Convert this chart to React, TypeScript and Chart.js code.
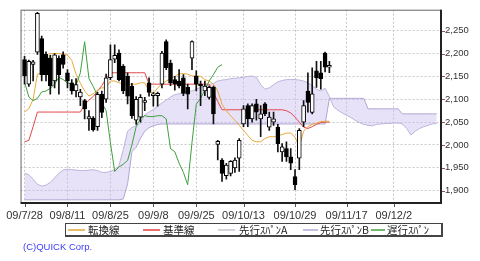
import React, { useEffect, useRef } from 'react';
import { Chart, registerables } from 'chart.js';

Chart.register(...registerables);

// ---- candle data (trading-day index 0 = 09/7/28) ----
const opens = [
  2187, 2133, 2176, 2203, 2233, 2199, 2190, 2140, 2190, 2197,
  2158, 2136, 2118, 2105, 2097, 2057, 2059, 2040, 2111, 2100,
  2147, 2188, 2201, 2172, 2151, 2129, 2054, 2061, 2093, 2136,
  2108, 2108, 2133, 2226, 2179, 2143, 2140, 2147, 2126, 2190,
  2151, 2133, 2118, 2104, 2126, 2001, 1967, 1933, 1938, 1950,
  1971, 2046, 2086, 2057, 2090, 2057, 2090, 2039, 2050, 2039,
  1985, 1992, 1974, 1931, 1971, 2050, 2118, 2071, 2162, 2158,
  2201, 2170,
];
const highs = [
  2194, 2186, 2185, 2290, 2238, 2204, 2196, 2200, 2195, 2204,
  2165, 2143, 2145, 2122, 2100, 2075, 2062, 2115, 2118, 2155,
  2219, 2219, 2208, 2176, 2158, 2135, 2106, 2110, 2104, 2147,
  2115, 2116, 2205, 2230, 2186, 2150, 2165, 2154, 2133, 2228,
  2162, 2140, 2140, 2129, 2129, 2010, 1970, 1960, 1966, 1972,
  2014, 2086, 2090, 2090, 2100, 2086, 2093, 2072, 2072, 2045,
  2003, 2007, 1992, 1946, 2036, 2097, 2158, 2169, 2183, 2183,
  2203, 2183,
];
const lows = [
  2133, 2128, 2140, 2198, 2140, 2140, 2111, 2125, 2111, 2168,
  2125, 2111, 2105, 2086, 2057, 2032, 2030, 2032, 2060, 2093,
  2143, 2180, 2140, 2112, 2090, 2058, 2045, 2050, 2075, 2107,
  2085, 2085, 2125, 2165, 2130, 2120, 2125, 2108, 2079, 2165,
  2118, 2086, 2108, 2100, 2046, 1967, 1920, 1925, 1932, 1940,
  1942, 2040, 2040, 2050, 2054, 2018, 2064, 2032, 2043, 1985,
  1964, 1964, 1946, 1902, 1946, 2040, 2072, 2068, 2126, 2122,
  2160, 2158,
];
const closes = [
  2151, 2183, 2182, 2288, 2154, 2154, 2129, 2197, 2154, 2176,
  2140, 2118, 2132, 2116, 2079, 2062, 2033, 2111, 2071, 2147,
  2187, 2196, 2143, 2118, 2107, 2064, 2100, 2104, 2097, 2115,
  2112, 2113, 2201, 2169, 2136, 2133, 2129, 2113, 2111, 2226,
  2133, 2129, 2129, 2126, 2068, 2008, 1938, 1956, 1964, 1967,
  2010, 2079, 2057, 2086, 2072, 2068, 2068, 2061, 2057, 2003,
  1996, 1974, 1960, 1913, 2032, 2086, 2093, 2112, 2147, 2145,
  2170, 2174,
];

// ---- ichimoku lines ----
const tenkan = [
  2072, 2079, 2100, 2155, 2157, 2158, 2200, 2200, 2200, 2198,
  2197, 2185, 2155, 2135, 2118, 2107, 2112, 2120, 2125, 2125,
  2140, 2140, 2136, 2133, 2133, 2133, 2133, 2136, 2136, 2118,
  2112, 2125, 2133, 2140, 2145, 2150, 2156, 2156, 2155, 2151,
  2151, 2150, 2143, 2140, 2133, 2118, 2089, 2075, 2064, 2054,
  2043, 2032, 2021, 2010, 2007, 2007, 2014, 2018, 2018, 2020,
  2023, 2026, 2026, 2017, 1996, 2030, 2040, 2045, 2048, 2051,
  2052, 2052,
];
const kijun = [
  2007, 2010, 2040, 2072, 2072, 2072, 2072, 2072, 2072, 2072,
  2072, 2072, 2072, 2072, 2088, 2098, 2106, 2118, 2130, 2145,
  2158, 2158, 2158, 2158, 2158, 2158, 2158, 2158, 2158, 2133,
  2133, 2133, 2133, 2133, 2133, 2133, 2133, 2133, 2133, 2133,
  2133, 2133, 2133, 2133, 2115, 2095, 2077, 2077, 2077, 2077,
  2077, 2077, 2077, 2077, 2077, 2077, 2077, 2077, 2077, 2077,
  2077, 2075, 2070, 2061, 2050, 2039, 2036, 2040, 2045, 2049,
  2050, 2050,
];
const chikou = [
  2138, 2105, 2097, 2102, 2116, 2118, 2124, 2133, 2148, 2143,
  2136, 2133, 2130, 2158, 2226, 2145, 2128, 2108, 2092, 2075,
  2005, 1942, 1952, 1958, 1966, 2000, 2040, 2058, 2064, 2062,
  2062, 2064, 2064, 2057, 1992, 1985, 1960, 1940, 1913, 2005,
  2089, 2102, 2120, 2140, 2154, 2170, 2176,
];
const spanA = [
  1938, 1935, 1925, 1914, 1910, 1912, 1918, 1928, 1938, 1945,
  1947, 1946, 1945, 1944, 1944, 1945, 1946, 1944, 1940, 1940,
  1942, 1946, 1955, 1990, 2030, 2038, 2042, 2048, 2066, 2072,
  2078, 2085, 2092, 2098, 2105, 2110, 2112, 2115, 2117, 2118,
  2122, 2126, 2129, 2132, 2135, 2140, 2142, 2143, 2145, 2146,
  2147, 2148, 2150, 2151, 2148, 2132, 2122, 2125, 2132, 2138,
  2141, 2143, 2143, 2143, 2142, 2140, 2136, 2130, 2122, 2118,
  2124, 2106, 2083, 2076, 2070, 2065, 2060, 2054, 2049, 2045,
  2043, 2042, 2045, 2046, 2047, 2047, 2048, 2048, 2046, 2036,
  2022, 2030, 2036, 2040, 2043, 2046, 2047,
];
const spanB = [
  1880, 1880, 1880, 1880, 1880, 1880, 1880, 1880, 1880, 1880,
  1880, 1880, 1880, 1880, 1880, 1880, 1880, 1880, 1880, 1880,
  1880, 1880, 1880, 1882, 1915, 1985, 1995, 2015, 2030, 2038,
  2042, 2045, 2046, 2046, 2046, 2046, 2046, 2046, 2046, 2046,
  2046, 2046, 2046, 2046, 2046, 2046, 2046, 2046, 2046, 2046,
  2046, 2046, 2046, 2046, 2046, 2046, 2046, 2046, 2046, 2046,
  2046, 2046, 2046, 2046, 2046, 2046, 2046, 2046, 2046, 2046,
  2046, 2102, 2102, 2102, 2102, 2102, 2102, 2102, 2102, 2102,
  2079, 2079, 2079, 2079, 2079, 2079, 2079, 2079, 2068, 2068,
  2068, 2068, 2068, 2068, 2068, 2068, 2068,
];

// ---- axes ----
const xTickIdx = [0, 10, 20, 30, 40, 51, 63, 75, 86];
const xTickLabels = ['09/7/28', '09/8/11', '09/8/25', '09/9/8', '09/9/25', '09/10/13', '09/10/29', '09/11/17', '09/12/2'];
const yTicks = [1900, 1950, 2000, 2050, 2100, 2150, 2200, 2250];

const legendLabels = ['転換線', '基準線', '先行ｽﾊﾟﾝA', '先行ｽﾊﾟﾝB', '遅行ｽﾊﾟﾝ'];
const legendColors = ['#e8bc6c', '#e87070', '#d4d4dc', '#c4bee0', '#70bb70'];

const toPts = (arr: number[]) => arr.map((y, i) => ({ x: i, y }));

const framePlugin = {
  id: 'frame',
  afterDraw(chart: any) {
    const { ctx, chartArea: a, scales } = chart;
    ctx.save();
    ctx.lineWidth = 1;
    ctx.strokeStyle = '#555';
    ctx.beginPath();
    xTickIdx.forEach((v) => {
      const x = Math.round(scales.x.getPixelForValue(v)) + 0.5;
      ctx.moveTo(x, a.bottom);
      ctx.lineTo(x, a.bottom + 4);
    });
    ctx.stroke();
    ctx.strokeStyle = '#a05050';
    ctx.beginPath();
    yTicks.forEach((v) => {
      const y = Math.round(scales.y.getPixelForValue(v)) + 0.5;
      ctx.moveTo(a.right, y);
      ctx.lineTo(a.right + 4, y);
    });
    ctx.stroke();
    ctx.strokeStyle = '#666';
    ctx.strokeRect(a.left + 0.5, a.top + 0.5, a.right - a.left - 1, a.bottom - a.top - 1);
    ctx.fillStyle = '#222';
    ctx.fillRect(a.left, a.bottom - 1, a.right - a.left + 1, 2);
    ctx.fillRect(a.right - 1, a.top, 2, a.bottom - a.top + 1);
    ctx.restore();
  },
};

export default function App() {
  const ref = useRef<HTMLCanvasElement>(null);

  useEffect(() => {
    if (!ref.current) return;
    const lineBase = { type: 'line' as const, pointRadius: 0, borderWidth: 1, tension: 0, fill: false };
    const chart = new Chart(ref.current, {
      type: 'bar',
      data: {
        datasets: [
          {
            type: 'bar',
            label: 'body',
            data: opens.map((o, i) => ({ x: i, y: [Math.min(o, closes[i]), Math.max(o, closes[i])] })) as any,
            backgroundColor: opens.map((o, i) => (closes[i] >= o ? '#ffffff' : '#000000')),
            borderColor: '#000',
            borderWidth: 1,
            borderSkipped: false,
            barThickness: 4,
            grouped: false,
            order: 0,
          },
          {
            type: 'bar',
            label: 'wick',
            data: lows.map((l, i) => ({ x: i, y: [l, highs[i]] })) as any,
            backgroundColor: '#111',
            borderWidth: 0,
            barThickness: 1,
            grouped: false,
            order: 1,
          },
          { ...lineBase, label: '遅行スパン', data: toPts(chikou), borderColor: '#3ca03c', order: 2 },
          { ...lineBase, label: '転換線', data: toPts(tenkan), borderColor: '#e8a838', order: 3 },
          { ...lineBase, label: '基準線', data: toPts(kijun), borderColor: '#e04848', order: 4 },
          {
            ...lineBase,
            label: '先行スパンA',
            data: toPts(spanA),
            borderColor: '#bcb4da',
            fill: { target: 6, above: 'rgba(200,185,240,0.42)', below: 'rgba(200,185,240,0.42)' },
            order: 8,
          },
          { ...lineBase, label: '先行スパンB', data: toPts(spanB), borderColor: '#a8a0c8', order: 9 },
        ] as any,
      },
      options: {
        responsive: false,
        animation: false,
        events: [],
        layout: { padding: { left: 20, top: 8, right: 0, bottom: 0 } },
        plugins: { legend: { display: false }, tooltip: { enabled: false } },
        scales: {
          x: {
            type: 'linear',
            min: -0.93,
            max: 97,
            offset: false,
            afterBuildTicks: (s: any) => {
              s.ticks = xTickIdx.map((v) => ({ value: v }));
            },
            afterFit: (s: any) => {
              s.height = 58;
            },
            grid: { color: '#c8c8c8', drawTicks: false, offset: false, lineWidth: 1 },
            border: { display: false, dash: [2, 2] },
            ticks: {
              autoSkip: false,
              maxRotation: 0,
              padding: 6,
              color: '#333',
              font: { family: 'Liberation Sans', size: 11 },
              callback: (v: any) => xTickLabels[xTickIdx.indexOf(v)] ?? '',
            },
          },
          y: {
            type: 'linear',
            position: 'right',
            min: 1873,
            max: 2296,
            afterBuildTicks: (s: any) => {
              s.ticks = yTicks.map((v) => ({ value: v }));
            },
            afterFit: (s: any) => {
              s.width = 39;
            },
            grid: { color: '#c8c8c8', drawTicks: false, lineWidth: 1 },
            border: { display: false, dash: [2, 2] },
            ticks: {
              padding: 4,
              color: '#333',
              font: { family: 'Liberation Sans', size: 9.5 },
              callback: (v: any) => Number(v).toLocaleString('en-US'),
            },
          },
        },
      } as any,
      plugins: [framePlugin],
    });
    return () => chart.destroy();
  }, []);

  const lineLeft = [68, 143, 218, 303, 371];
  const lineWidth = [17, 17, 17, 15, 14];
  const textLeft = [88, 163, 239, 320, 387];

  return (
    <div style={{ position: 'absolute', left: 0, top: 0, width: 480, height: 261, background: '#fff', overflow: 'hidden' }}>
      <canvas ref={ref} width={480} height={261} style={{ position: 'absolute', left: 0, top: 0 }} />
      <div
        style={{
          position: 'absolute',
          left: 65,
          top: 223,
          width: 375,
          height: 11,
          border: '1px solid #444',
          borderRightWidth: 2,
          borderBottomWidth: 2,
          background: '#fff',
        }}
      />
      {legendLabels.map((lab, k) => (
        <React.Fragment key={lab}>
          <div
            style={{
              position: 'absolute',
              left: lineLeft[k],
              top: 229,
              width: lineWidth[k],
              height: 2,
              background: legendColors[k],
            }}
          />
          <div
            style={{
              position: 'absolute',
              left: textLeft[k],
              top: 223,
              height: 14,
              lineHeight: '14px',
              fontSize: 10.5,
              fontFamily: '"Noto Sans CJK JP", sans-serif',
              color: '#222',
              whiteSpace: 'nowrap',
            }}
          >
            {lab}
          </div>
        </React.Fragment>
      ))}
      <div
        style={{
          position: 'absolute',
          left: 23,
          top: 241,
          fontSize: 9.5,
          fontFamily: '"Liberation Sans", sans-serif',
          color: '#3c3cf6',
          whiteSpace: 'nowrap',
        }}
      >
        (C)QUICK Corp.
      </div>
    </div>
  );
}
